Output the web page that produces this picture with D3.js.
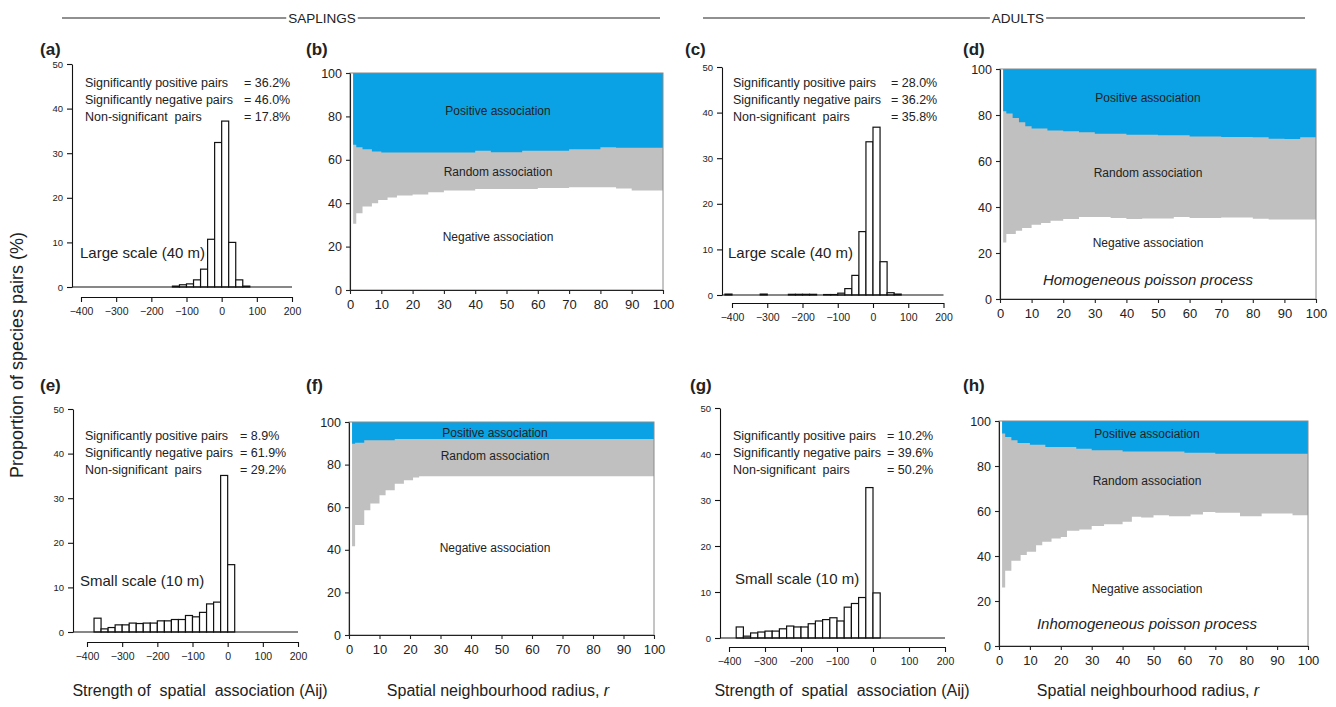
<!DOCTYPE html>
<html>
<head>
<meta charset="utf-8">
<script src="https://cdn.jsdelivr.net/npm/d3@7"></script>
<style>
  body { margin: 0; background: #fff; }
  text { font-family: "Liberation Sans", Arial, sans-serif; fill: #222; }
  .title { white-space: pre; }
</style>
</head>
<body>
<div class="chart"></div>
<script>
// histogram data: bin start (bins are 20 wide) and % of species pairs
const aBins = [-140, -120, -100, -80, -60, -40, -20, 0, 20, 40, 60];
const aPct  = [0.2, 0.5, 0.7, 1.6, 4.0, 10.7, 32.4, 37.2, 10.0, 1.6, 0.2];

const cBins = [-420, -320, -240, -220, -200, -180, -140, -120, -100, -80, -60, -40, -20, 0, 20, 40, 60];
const cPct  = [0.2, 0.2, 0.15, 0.15, 0.15, 0.15, 0.1, 0.1, 0.4, 1.4, 4.3, 13.9, 33.6, 36.8, 7.3, 0.5, 0.2];

const eBins = [-380, -360, -340, -320, -300, -280, -260, -240, -220, -200, -180, -160, -140, -120, -100, -80, -60, -40, -20, 0];
const ePct  = [3.1, 0.7, 1.0, 1.6, 1.6, 2.0, 1.9, 2.0, 2.0, 2.5, 2.5, 2.8, 2.8, 3.7, 3.4, 4.4, 6.3, 6.7, 35.1, 15.1];

const gBins = [-380, -360, -340, -320, -300, -280, -260, -240, -220, -200, -180, -160, -140, -120, -100, -80, -60, -40, -20, 0];
const gPct  = [2.4, 0.4, 1.1, 1.3, 1.5, 1.5, 2.0, 2.6, 2.4, 2.4, 3.1, 3.7, 4.0, 4.4, 3.7, 6.7, 7.5, 8.8, 32.7, 9.8];

const aStats = ["36.2%", "46.0%", "17.8%"];
const cStats = ["28.0%", "36.2%", "35.8%"];
const eStats = ["8.9%", "61.9%", "29.2%"];
const gStats = ["10.2%", "39.6%", "50.2%"];
const statLabels = ["Significantly positive pairs", "Significantly negative pairs", "Non-significant  pairs"];

// association proportions vs radius r (step values starting at each r)
const bNegR = [1, 2, 4, 7, 9, 12, 15, 20, 25, 30, 40, 60, 70, 85, 90, 100];
const bNeg  = [30.5, 35.4, 38.5, 40, 41.5, 42.6, 43.5, 44, 45, 45.8, 46.5, 47, 47.4, 46.8, 45.8, 45.8];
const bPosR = [1, 2, 4, 7, 10, 40, 45, 55, 70, 80, 85, 100];
const bPos  = [66.9, 65.8, 64.9, 63.8, 63.4, 64.2, 63.5, 64.2, 64.9, 65.8, 65.5, 65.5];

const dNegR = [1, 2, 5, 7, 10, 13, 16, 20, 25, 35, 40, 45, 55, 60, 70, 80, 85, 100];
const dNeg  = [24.6, 28.3, 29.7, 30.9, 32.3, 33, 34, 34.8, 35.7, 35.2, 34.8, 35, 35.7, 35.2, 35.4, 34.9, 34.6, 34.6];
const dPosR = [1, 2, 4, 6, 8, 10, 15, 20, 25, 30, 40, 50, 60, 70, 80, 85, 90, 95, 100];
const dPos  = [81.6, 80.6, 78.7, 76.8, 75.1, 74.1, 73.3, 72.9, 72.5, 71.9, 71.4, 71.2, 70.7, 70.4, 70.3, 69.7, 69.6, 70.3, 70.3];

const fNegR = [1, 2, 5, 7, 10, 12, 15, 18, 21, 23, 100];
const fNeg  = [41.7, 51.6, 58.6, 61.7, 65.6, 68, 71, 72.7, 74, 74.5, 74.5];
const fPosR = [1, 2, 5, 15, 100];
const fPos  = [89.8, 90.3, 91.4, 92, 92];

const hNegR = [1, 2, 4, 7, 9, 12, 14, 17, 20, 22, 26, 30, 34, 40, 43, 46, 50, 55, 62, 66, 70, 78, 85, 95, 100];
const hNeg  = [26, 33.4, 37.9, 40.4, 41.9, 44.8, 46.3, 47.8, 48.5, 51.2, 51.8, 53.3, 54.1, 55.2, 57.4, 57.1, 58.1, 57.7, 58.4, 59.6, 59.2, 57.7, 58.9, 58.1, 58.1];
const hPosR = [1, 2, 4, 6, 10, 15, 25, 30, 40, 60, 70, 100];
const hPos  = [94.4, 92.9, 91.4, 90.2, 89.5, 88.5, 87.7, 87, 86.5, 85.9, 85.5, 85.5];

const histTicksX = [-400, -300, -200, -100, 0, 100, 200];
const histTicksY = [0, 10, 20, 30, 40, 50];
const areaTicksX = [0, 10, 20, 30, 40, 50, 60, 70, 80, 90, 100];
const areaTicksY = [0, 20, 40, 60, 80, 100];

const BLUE = "#0aa2e4", GREY = "#c0c0c0";

const svg = d3.select(".chart").append("svg")
  .attr("width", 1336).attr("height", 707);

svg.append("rect").attr("width", 1336).attr("height", 707).attr("fill", "#fff");

function histogram(p, bins, pct, stats, scaleLabel) {
  const x = d3.scaleLinear().domain([-400, 200]).range([p.x0, p.x1]);
  const y = d3.scaleLinear().domain([0, 50]).range([p.y0, p.yTop]);
  const g = svg.append("g");

  g.selectAll("rect.bar")
    .data(bins)
    .join("rect")
    .attr("class", "bar")
    .attr("x", d => x(d))
    .attr("width", d => x(d + 20) - x(d))
    .attr("y", (d, i) => y(pct[i]))
    .attr("height", (d, i) => y(0) - y(pct[i]))
    .attr("fill", "#fff")
    .attr("stroke", "#111")
    .attr("stroke-width", 1.2);

  // baseline
  g.append("line")
    .attr("x1", p.yAxisX).attr("x2", x(200))
    .attr("y1", y(0)).attr("y2", y(0))
    .attr("stroke", "#111").attr("stroke-width", 1.2);

  const ya = g.append("g")
    .attr("transform", `translate(${p.yAxisX},0)`)
    .call(d3.axisLeft(y).tickValues(histTicksY).tickSize(5).tickSizeOuter(0).tickPadding(4));
  const xa = g.append("g")
    .attr("transform", `translate(0,${p.xAxisY})`)
    .call(d3.axisBottom(x).tickValues(histTicksX).tickSize(5).tickSizeOuter(0).tickPadding(6));
  [ya, xa].forEach(a => {
    a.selectAll("path, line").attr("stroke", "#111").attr("stroke-width", 1.1);
    a.selectAll("text").attr("fill", "#222")
      .style("font-family", "Liberation Sans, Arial, sans-serif");
  });
  ya.selectAll("text").attr("font-size", 9.5);
  xa.selectAll("text").attr("font-size", 10.5);

  statLabels.forEach((lab, i) => {
    g.append("text").attr("class", "title").attr("x", p.statX).attr("y", p.statY + i * 17)
      .attr("font-size", 12.5).attr("fill", "#333").text(lab);
    g.append("text").attr("x", p.eqX).attr("y", p.statY + i * 17)
      .attr("font-size", 12.5).attr("fill", "#333").text("= " + stats[i]);
  });

  g.append("text").attr("x", p.scaleX).attr("y", p.scaleY)
    .attr("font-size", 15).text(scaleLabel);
}

function associations(p, negR, neg, posR, pos, process) {
  const x = d3.scaleLinear().domain([0, 100]).range([p.left, p.right]);
  const y = d3.scaleLinear().domain([0, 100]).range([p.bottom, p.top]);
  const g = svg.append("g");

  const area = d3.area()
    .x(d => x(d[0]))
    .y0(d => y(d[1]))
    .y1(y(100))
    .curve(d3.curveStepAfter);

  g.append("path")
    .datum(negR.map((r, i) => [r, neg[i]]))
    .attr("d", area)
    .attr("fill", GREY);
  g.append("path")
    .datum(posR.map((r, i) => [r, pos[i]]))
    .attr("d", area)
    .attr("fill", BLUE);

  g.append("rect")
    .attr("x", p.left).attr("y", p.top)
    .attr("width", p.right - p.left).attr("height", p.bottom - p.top)
    .attr("fill", "none").attr("stroke", "#8a8a8a").attr("stroke-width", 1);

  const ya = g.append("g")
    .attr("transform", `translate(${p.left},0)`)
    .call(d3.axisLeft(y).tickValues(areaTicksY).tickSize(4).tickSizeOuter(0).tickPadding(4));
  const xa = g.append("g")
    .attr("transform", `translate(0,${p.bottom})`)
    .call(d3.axisBottom(x).tickValues(areaTicksX).tickSize(4).tickSizeOuter(0).tickPadding(6));
  [ya, xa].forEach(a => {
    a.selectAll("path, line").attr("stroke", "#222").attr("stroke-width", 1.1);
    a.selectAll("text").attr("fill", "#222")
      .style("font-family", "Liberation Sans, Arial, sans-serif");
  });
  ya.selectAll("text").attr("font-size", 12.5);
  xa.selectAll("text").attr("font-size", 13);

  const labels = [["Positive association", p.posY], ["Random association", p.randY], ["Negative association", p.negY]];
  labels.forEach(l => {
    g.append("text").attr("x", p.labX).attr("y", l[1])
      .attr("text-anchor", "middle").attr("dominant-baseline", "central")
      .attr("font-size", 12).attr("fill", "#1a1a1a").text(l[0]);
  });

  if (process) {
    g.append("text").attr("x", p.labX).attr("y", p.procY)
      .attr("text-anchor", "middle").attr("dominant-baseline", "central")
      .attr("font-size", 15).attr("font-style", "italic").attr("fill", "#333").text(process);
  }
}

histogram({x0: 81, x1: 292, yAxisX: 72, yTop: 64, y0: 287, xAxisY: 297,
           statX: 85, eqX: 244, statY: 87, scaleX: 80, scaleY: 258},
          aBins, aPct, aStats, "Large scale (40 m)");
histogram({x0: 732, x1: 943.5, yAxisX: 722, yTop: 67, y0: 295, xAxisY: 303,
           statX: 733, eqX: 891, statY: 87, scaleX: 728, scaleY: 258},
          cBins, cPct, cStats, "Large scale (40 m)");
histogram({x0: 87, x1: 298, yAxisX: 73, yTop: 409, y0: 632, xAxisY: 642,
           statX: 85, eqX: 240, statY: 440, scaleX: 80, scaleY: 586},
          eBins, ePct, eStats, "Small scale (10 m)");
histogram({x0: 729, x1: 945, yAxisX: 720, yTop: 408, y0: 638, xAxisY: 647,
           statX: 733, eqX: 887, statY: 440, scaleX: 735, scaleY: 584},
          gBins, gPct, gStats, "Small scale (10 m)");

associations({left: 350, right: 663, top: 73, bottom: 290, labX: 498, posY: 111, randY: 172, negY: 237},
             bNegR, bNeg, bPosR, bPos, null);
associations({left: 1000, right: 1316, top: 69, bottom: 299, labX: 1148, posY: 98, randY: 173, negY: 243, procY: 279},
             dNegR, dNeg, dPosR, dPos, "Homogeneous poisson process");
associations({left: 349, right: 654, top: 422, bottom: 635, labX: 495, posY: 433, randY: 456, negY: 548},
             fNegR, fNeg, fPosR, fPos, null);
associations({left: 999, right: 1308, top: 421, bottom: 646, labX: 1147, posY: 434, randY: 481, negY: 589, procY: 623},
             hNegR, hNeg, hPosR, hPos, "Inhomogeneous poisson process");

// panel letters
const letters = [["(a)", 40, 55], ["(b)", 306, 55], ["(c)", 685, 55], ["(d)", 963, 55],
                 ["(e)", 40, 391], ["(f)", 306, 391], ["(g)", 690, 391], ["(h)", 963, 391]];
svg.selectAll("text.letter")
  .data(letters)
  .join("text")
  .attr("class", "letter")
  .attr("x", d => d[1]).attr("y", d => d[2])
  .attr("font-size", 17).attr("font-weight", "bold")
  .text(d => d[0]);

// group headers
function header(label, x1, x2, cx) {
  const t = svg.append("text")
    .attr("x", cx).attr("y", 23).attr("text-anchor", "middle")
    .attr("font-size", 13.5).text(label);
  const w = t.node().getComputedTextLength();
  svg.append("line").attr("x1", x1).attr("x2", cx - w / 2 - 2).attr("y1", 18).attr("y2", 18)
    .attr("stroke", "#222").attr("stroke-width", 1.2);
  svg.append("line").attr("x1", cx + w / 2 + 2).attr("x2", x2).attr("y1", 18).attr("y2", 18)
    .attr("stroke", "#222").attr("stroke-width", 1.2);
}
header("SAPLINGS", 62, 660, 322);
header("ADULTS", 703, 1305, 1018);

// axis titles
svg.append("text")
  .attr("transform", "translate(23,355) rotate(-90)")
  .attr("text-anchor", "middle").attr("font-size", 18)
  .text("Proportion of species pairs (%)");

const xTitles = [[200, "Strength of  spatial  association (Aij)"], [498, "Spatial neighbourhood radius, "],
                 [842, "Strength of  spatial  association (Aij)"], [1148, "Spatial neighbourhood radius, "]];
xTitles.forEach(t => {
  const tx = svg.append("text").attr("class", "title")
    .attr("x", t[0]).attr("y", 696).attr("text-anchor", "middle")
    .attr("font-size", 16).text(t[1]);
  if (t[1].startsWith("Spatial")) {
    tx.append("tspan").attr("font-style", "italic").text("r");
  }
});
</script>
</body>
</html>
